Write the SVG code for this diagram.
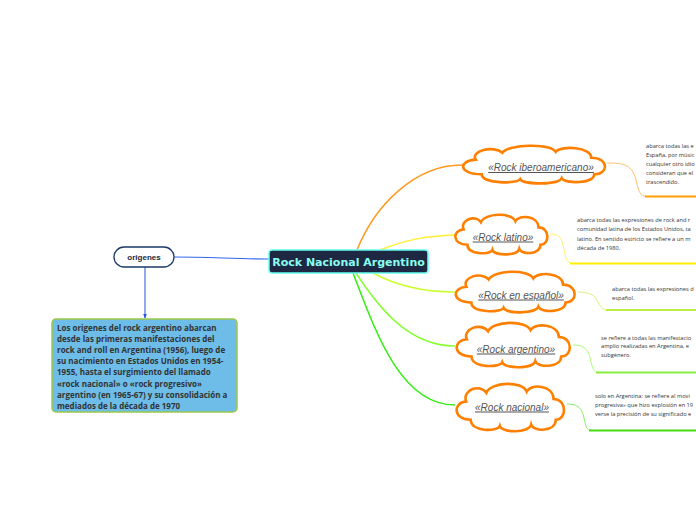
<svg xmlns="http://www.w3.org/2000/svg" xmlns:xlink="http://www.w3.org/1999/xlink" width="696" height="520" viewBox="0 0 696 520">
<style>
.cl{fill:#fff;stroke:#ff8000;stroke-width:2.6;vector-effect:non-scaling-stroke}
.ct{font-family:"Liberation Sans",Arial,sans-serif;font-size:10px;font-style:italic;text-decoration:underline;fill:#555;text-anchor:middle}
.st{font-family:"Open Sans","Noto Sans",sans-serif;font-size:5.7px;fill:#333}
.bt{font-family:"Open Sans","Noto Sans",sans-serif;font-size:8px;font-weight:bold;fill:#333}
.c{fill:none}
</style>
<defs>
<symbol id="cloud" viewBox="0 0 100 40" preserveAspectRatio="none" overflow="visible">
<path class="cl" d="M10,15 C6,6 22,0 28,8 C32,-1 60,-2 64,7 C68,0 88,2 88,13 C100,13 100,30 90,30 C90,40 70,40 68,34 C66,41 42,41 40,35 C38,40 14,40 14,30 C-2,30 -2,16 10,15 Z"/>
</symbol>
<marker id="ah" viewBox="0 0 10 10" refX="9" refY="5" markerWidth="5" markerHeight="5" orient="auto">
<path d="M0,1 L10,5 L0,9 Z" fill="#2255dd"/>
</marker>
</defs>

<g id="connectors">
<path class="c" d="M174,257 C210,257 235,259 269,259" stroke="#3366ee" stroke-width="1.2"/>
<path class="c" d="M145,267 L145,318" stroke="#2255dd" stroke-width="1" marker-end="url(#ah)"/>
<path class="c" d="M357,250 C375,205 415,165 462,165" stroke="#ff9922" stroke-width="1.5"/>
<path class="c" d="M380,250 C405,240 425,236 455,235" stroke="#ffee33" stroke-width="1.5"/>
<path class="c" d="M373,273 C395,285 420,292 455,292" stroke="#ccff33" stroke-width="1.5"/>
<path class="c" d="M356,273 C380,310 410,346 455,346" stroke="#88ff33" stroke-width="1.5"/>
<path class="c" d="M353,273 C375,330 400,405 455,405" stroke="#33ee11" stroke-width="1.5"/>
<path class="c" d="M607,163 C625,163 632,165 636,180 C639,192 640,196 646,196" stroke="#ffc070" stroke-width="1"/>
<path class="c" d="M645,196.5 H696" stroke="#ffa000" stroke-width="2"/>
<path class="c" d="M550,234 C560,234 562,238 564,250 C566,260 567,263 572,263" stroke="#fff070" stroke-width="1"/>
<path class="c" d="M570,263.5 H696" stroke="#ffee00" stroke-width="2"/>
<path class="c" d="M578,292 C590,292 595,295 598,302 C602,309 604,310 608,310" stroke="#d8f080" stroke-width="1"/>
<path class="c" d="M606,310 H696" stroke="#bbee44" stroke-width="2"/>
<path class="c" d="M573,345 C585,345 588,350 590,358 C593,370 594,372 598,372" stroke="#aaff77" stroke-width="1"/>
<path class="c" d="M596,372.5 H696" stroke="#88ee44" stroke-width="2"/>
<path class="c" d="M567,404 C578,404 582,408 584,418 C586,428 587,430 591,430" stroke="#88ee66" stroke-width="1"/>
<path class="c" d="M589,430.5 H696" stroke="#44dd11" stroke-width="2"/>
</g>

<g id="center">
<rect x="269" y="250" width="159" height="23" rx="3" fill="#1e2842" stroke="#66ffee" stroke-width="1.5"/>
<text x="348.5" y="265.5" font-family="DejaVu Sans,Verdana,sans-serif" font-size="11" font-weight="bold" fill="#88ffee" text-anchor="middle">Rock Nacional Argentino</text>
</g>

<g id="origenes">
<rect x="114" y="247" width="60" height="20" rx="10" fill="#fff" stroke="#1b3a6a" stroke-width="1.3"/>
<text x="144" y="260" font-family="Liberation Sans,Arial,sans-serif" font-size="8" font-weight="bold" fill="#1b2a40" text-anchor="middle">origenes</text>
</g>

<g id="origenes-text">
<rect x="52" y="319" width="185" height="93" rx="4" fill="#6dbde8" stroke="#9cc84a" stroke-width="1.5"/>
<text class="bt" x="57">
<tspan x="57" y="330.5">Los origenes del rock argentino abarcan</tspan>
<tspan x="57" y="341.7">desde las primeras manifestaciones del</tspan>
<tspan x="57" y="352.9">rock and roll en Argentina (1956), luego de</tspan>
<tspan x="57" y="364.1">su nacimiento en Estados Unidos en 1954-</tspan>
<tspan x="57" y="375.3">1955, hasta el surgimiento del llamado</tspan>
<tspan x="57" y="386.5">«rock nacional» o «rock progresivo»</tspan>
<tspan x="57" y="397.7">argentino (en 1965-67) y su consolidación a</tspan>
<tspan x="57" y="408.9">mediados de la década de 1970</tspan>
</text>
</g>

<g id="iberoamericano">
<use xlink:href="#cloud" href="#cloud" x="461" y="145" width="148" height="39"/>
<text class="ct" x="541" y="171">«Rock iberoamericano»</text>
</g>
<g id="latino">
<use xlink:href="#cloud" href="#cloud" x="454" y="214" width="96" height="41"/>
<text class="ct" x="503" y="240.5">«Rock latino»</text>
</g>
<g id="espanol">
<use xlink:href="#cloud" href="#cloud" x="454" y="271" width="124" height="42"/>
<text class="ct" x="521" y="298.5">«Rock en español»</text>
</g>
<g id="argentino">
<use xlink:href="#cloud" href="#cloud" x="455" y="322" width="118" height="46"/>
<text class="ct" x="516" y="352.5">«Rock argentino»</text>
</g>
<g id="nacional">
<use xlink:href="#cloud" href="#cloud" x="455" y="383" width="112" height="49"/>
<text class="ct" x="512" y="410.5">«Rock nacional»</text>
</g>

<g id="notes">
<text class="st"><tspan x="646" y="148">abarca todas las e</tspan><tspan x="646" y="157">España, por músic</tspan><tspan x="646" y="166">cualquier otro idio</tspan><tspan x="646" y="175">consideran que el</tspan><tspan x="646" y="184">trascendido.</tspan></text>
<text class="st"><tspan x="577" y="222">abarca todas las expresiones de rock and r</tspan><tspan x="577" y="231">comunidad latina de los Estados Unidos, ta</tspan><tspan x="577" y="240.5">latino. En sentido estricto se refiere a un m</tspan><tspan x="577" y="249.5">década de 1980.</tspan></text>
<text class="st"><tspan x="612" y="290.5">abarca todas las expresiones d</tspan><tspan x="612" y="300">español.</tspan></text>
<text class="st"><tspan x="601" y="339.5">se refiere a todas las manifestacio</tspan><tspan x="601" y="348">amplio realizadas en Argentina, e</tspan><tspan x="601" y="356.5">subgénero.</tspan></text>
<text class="st"><tspan x="595" y="398">solo en Argentina: se refiere al movi</tspan><tspan x="595" y="407">progresiva» que hizo explosión en 19</tspan><tspan x="595" y="415.5">verse la precisión de su significado e</tspan></text>
</g>
</svg>
